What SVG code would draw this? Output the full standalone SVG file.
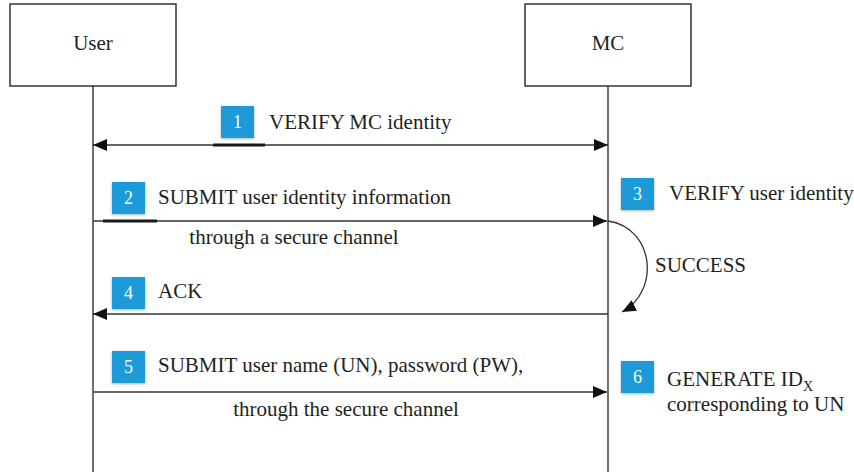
<svg xmlns="http://www.w3.org/2000/svg" width="854" height="472" viewBox="0 0 854 472">
<defs>
<style>
.box{fill:#fff;stroke:#333;stroke-width:1.5}
.life{stroke:#222;stroke-width:1.3;fill:none}
.msg{stroke:#333;stroke-width:1.3;fill:none}
.thick{stroke:#1a1a1a;stroke-width:3}
.num{fill:#1f9bd8}
.t{font-family:'Liberation Serif',serif;font-size:21px;fill:#231f20}
.nt{font-family:'Liberation Serif',serif;font-size:18px;fill:#fff;text-anchor:middle}
</style>
<filter id="sh" x="-30%" y="-30%" width="160%" height="160%">
<feGaussianBlur in="SourceAlpha" stdDeviation="1.5"/>
<feOffset dx="0" dy="1"/>
<feComponentTransfer><feFuncA type="linear" slope="0.3"/></feComponentTransfer>
<feMerge><feMergeNode/><feMergeNode in="SourceGraphic"/></feMerge>
</filter>
<marker id="ah" viewBox="0 0 14 12" refX="14" refY="6" markerWidth="14" markerHeight="12" markerUnits="userSpaceOnUse" orient="auto-start-reverse">
<path d="M0,0 L14,6 L0,12 Z" fill="#111"/>
</marker>
</defs>
<rect width="854" height="472" fill="#fff"/>
<g id="user">
<rect class="box" x="10" y="4" width="166" height="82"/>
<text class="t" x="93" y="50" text-anchor="middle">User</text>
<line class="life" x1="93" y1="86" x2="93" y2="472"/>
</g>
<g id="mc">
<rect class="box" x="525" y="4" width="166" height="82"/>
<text class="t" x="608" y="50" text-anchor="middle">MC</text>
<line class="life" x1="608" y1="86" x2="608" y2="472"/>
</g>
<g id="connectors">
<line class="msg" x1="93" y1="145" x2="608" y2="145" marker-start="url(#ah)" marker-end="url(#ah)"/>
<line class="thick" x1="213" y1="145" x2="265" y2="145"/>
<line class="msg" x1="93" y1="221" x2="607" y2="221" marker-end="url(#ah)"/>
<line class="thick" x1="103" y1="221" x2="157" y2="221"/>
<path class="msg" d="M608,221 C655,228 660,292 622,312" marker-end="url(#ah)"/>
<line class="msg" x1="608" y1="314" x2="93" y2="314" marker-end="url(#ah)"/>
<line class="msg" x1="93" y1="392" x2="607" y2="392" marker-end="url(#ah)"/>
</g>
<g id="step1">
<rect class="num" x="221" y="106" width="33" height="32" filter="url(#sh)"/>
<text class="nt" x="237.5" y="128">1</text>
<text class="t" x="269" y="129">VERIFY MC identity</text>
</g>
<g id="step2">
<rect class="num" x="112" y="182" width="33" height="32" filter="url(#sh)"/>
<text class="nt" x="128.5" y="204">2</text>
<text class="t" x="158" y="204">SUBMIT user identity information</text>
<text class="t" x="294" y="244" text-anchor="middle">through a secure channel</text>
</g>
<g id="step3">
<rect class="num" x="621" y="178" width="33" height="32" filter="url(#sh)"/>
<text class="nt" x="637.5" y="200">3</text>
<text class="t" x="669" y="200">VERIFY user identity</text>
<text class="t" x="655" y="272">SUCCESS</text>
</g>
<g id="step4">
<rect class="num" x="112" y="277" width="33" height="32" filter="url(#sh)"/>
<text class="nt" x="128.5" y="299">4</text>
<text class="t" x="158" y="298">ACK</text>
</g>
<g id="step5">
<rect class="num" x="112" y="351" width="33" height="32" filter="url(#sh)"/>
<text class="nt" x="128.5" y="373">5</text>
<text class="t" x="158" y="372">SUBMIT user name (UN), password (PW),</text>
<text class="t" x="346" y="416" text-anchor="middle">through the secure channel</text>
</g>
<g id="step6">
<rect class="num" x="621" y="361" width="33" height="32" filter="url(#sh)"/>
<text class="nt" x="637.5" y="383">6</text>
<text class="t" x="667" y="386">GENERATE ID<tspan font-size="14" dy="5">X</tspan></text>
<text class="t" x="667" y="411">corresponding to UN</text>
</g>
</svg>
